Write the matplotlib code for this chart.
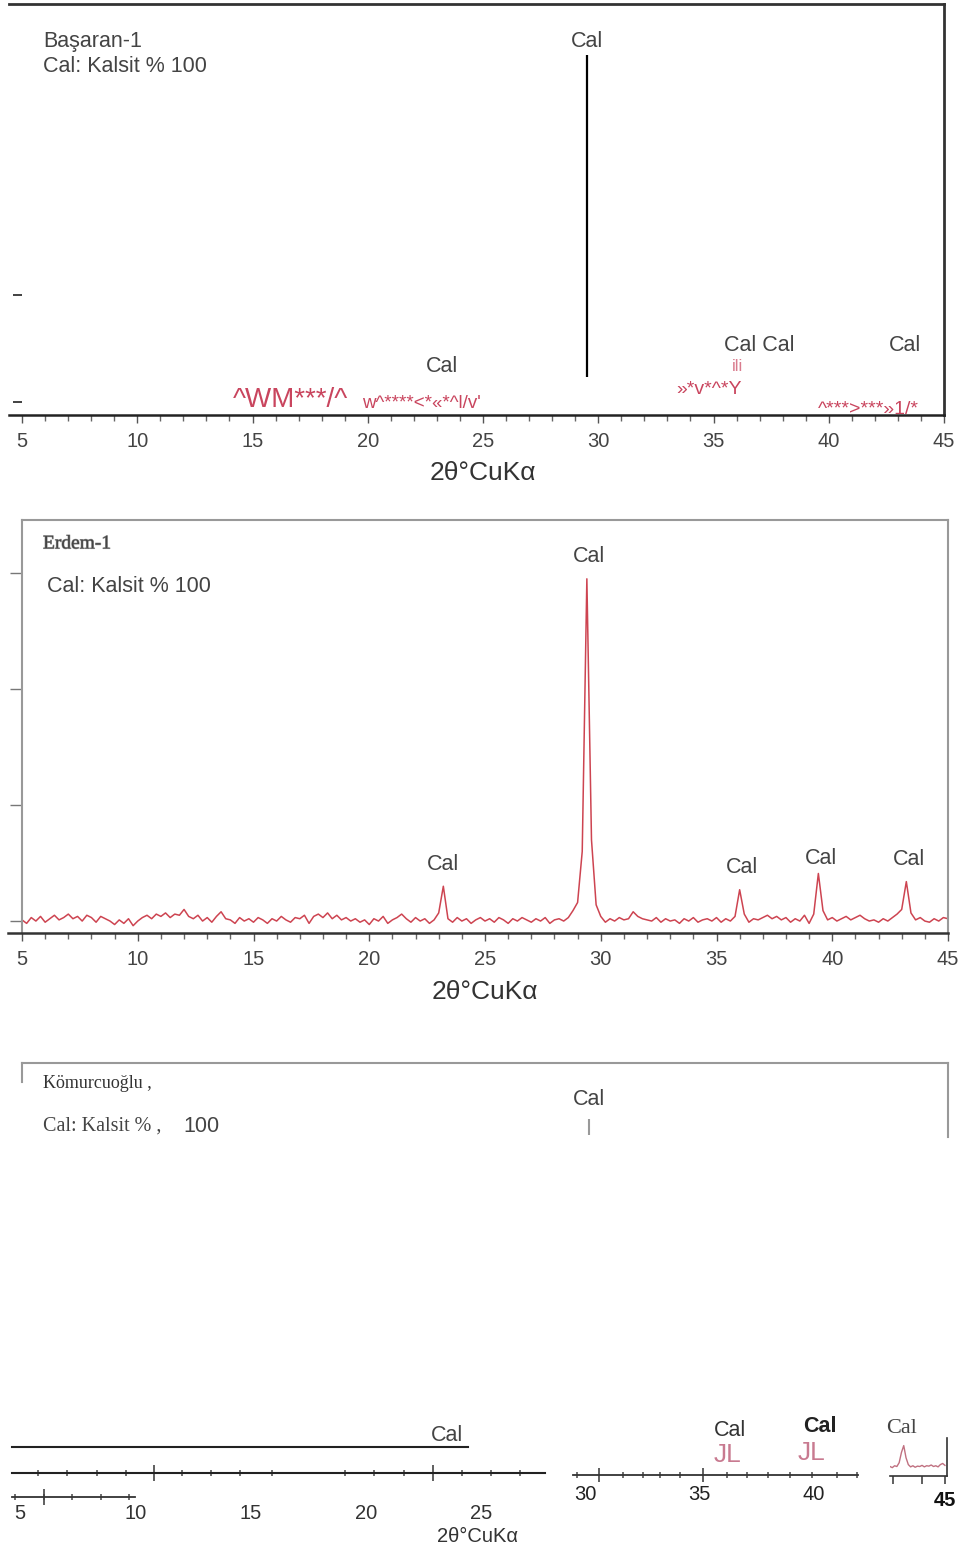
import numpy as np
import matplotlib
matplotlib.use('Agg')
import matplotlib.pyplot as plt
import matplotlib.patheffects as pe
from matplotlib.ticker import MultipleLocator, FixedLocator, NullFormatter

plt.rcParams['font.family'] = ['Liberation Sans', 'DejaVu Sans']
SERIF = ['Liberation Serif', 'DejaVu Serif']

# ---------------- data ----------------
# Başaran-1 : stick pattern
bas_stick_theta = [29.5]
bas_stick_lo = [23]
bas_stick_hi = [324]
bas_yticks = [0, 100]
bas_cal_theta = [29.5, 23.2, 37.0, 43.3]
bas_cal_y = [337, 33, 53, 53]
bas_cal_text = ['Cal', 'Cal', 'Cal Cal', 'Cal']

# Erdem-1 : measured scan, 5-45 deg step 0.2
erdem_theta = np.linspace(5.0, 45.0, 201)
erdem_counts = [
    1, -2, 3, 0, 4, -1, 2, 5, 1, 3,
    6, 2, 4, 0, 5, 3, -1, 4, 2, 0,
    -3, 1, -2, 2, -4, 0, 3, 5, 2, 6,
    4, 7, 3, 6, 5, 10, 4, 2, 5, 0,
    3, -1, 4, 8, 2, 1, -2, 3, 0, 2,
    -1, 3, 1, -2, 2, 0, 4, 1, -1, 3,
    2, 5, -2, 4, 6, 3, 7, 2, 5, 1,
    3, 0, 2, -1, 1, -3, 2, 0, 4, -2,
    1, 3, 6, 2, -1, 3, 0, 2, -2, 1,
    7, 30, 2, -1, 3, 0, 2, -2, 1, 3,
    0, 2, -1, 3, 1, -2, 2, 0, 3, 1,
    -1, 2, 0, 3, -2, 1, 2, 0, 3, 9,
    16, 60, 295, 70, 14, 4, -1, 2, 0, 3,
    1, 2, 8, 4, 2, 1, 0, 3, -1, 2,
    0, 1, -2, 2, 0, 3, -1, 1, 2, 0,
    3, -1, 2, 0, 4, 27, 6, -1, 2, 1,
    3, 5, 2, 4, 1, 3, -1, 2, 0, 5,
    -2, 6, 41, 9, 1, 3, 0, 2, 4, 1,
    3, 5, 2, 0, 1, -1, 2, 0, 3, 6,
    10, 34, 7, 1, 3, 0, -1, 2, 0, 3,
    2]
erdem_yticks = [0, 100, 200, 300]
erdem_cal_theta = [29.5, 23.2, 36.1, 39.5, 43.3]
erdem_cal_y = [314, 49, 46, 54, 53]

# Kömürcüoğlu : fragments
kom_stub_theta = [29.5]
kom_row1_minor = [5.78, 7.04, 8.34, 9.60, 12.03, 13.29, 14.54, 15.93,
                  19.10, 20.36, 21.66, 24.18, 25.43, 26.69]
kom_row1_major = [10.81, 22.92]
kom_row2_minor = [4.78, 6.04, 7.26, 8.51, 9.73]
kom_row2_labels = [5, 10, 15, 20, 25]
kom_right_minor = [29.65, 31.66, 32.53, 33.28, 34.15, 36.2, 37.07, 37.99,
                   38.95, 39.91, 41.0, 41.88]
kom_right_major = [30.61, 35.15]
kom_right_labels = [30, 35, 40]
kom_tail_theta = np.linspace(42.6, 45.0, 25)
kom_tail_counts = [0.25, 0.22, 0.27, 0.25, 0.35, 0.62, 0.80, 0.48, 0.30, 0.24,
                   0.27, 0.23, 0.26, 0.25, 0.28, 0.24, 0.27, 0.26, 0.29, 0.25,
                   0.27, 0.24, 0.30, 0.33, 0.28]

RED = '#c9455e'
PINK = '#c87a90'
FS = 15.5      # annotation text
TICK_FS = 14.5
LABEL_FS = 19
W, H = 965, 1546
fig = plt.figure(figsize=(9.65, 15.46), dpi=100)


def px_axes(x0, y0, x1, y1):
    return fig.add_axes([x0 / W, 1 - y1 / H, (x1 - x0) / W, (y1 - y0) / H])


def ftext(x, y, s, **kw):
    kw.setdefault('va', 'center')
    fig.text(x / W, 1 - y / H, s, **kw)


def deg_axis(ax):
    ax.set_xlim(5, 45)
    ax.xaxis.set_major_locator(MultipleLocator(5))
    ax.xaxis.set_minor_locator(MultipleLocator(1))
    ax.tick_params(axis='x', which='major', direction='out', length=6,
                   width=1, color='#555', labelsize=TICK_FS, labelcolor='#444', pad=6)
    ax.tick_params(axis='x', which='minor', direction='out', length=4.5,
                   width=1, color='#666')


# ---------------- panel 1 : Başaran-1 ----------------
ax1 = px_axes(22, 4, 944, 415)
deg_axis(ax1)
ax1.set_ylim(-12.1, 372)
ax1.vlines(bas_stick_theta, bas_stick_lo, bas_stick_hi, color='black', lw=1.6)
ax1.spines['left'].set_visible(False)
ax1.spines['top'].set_bounds(4.45, 45)
ax1.spines['bottom'].set_bounds(4.45, 45)
for s in ['top', 'right']:
    ax1.spines[s].set_color('#333')
    ax1.spines[s].set_linewidth(2)
ax1.spines['bottom'].set_color('#222')
ax1.spines['bottom'].set_linewidth(1.8)
ax1.set_yticks(bas_yticks)
ax1.yaxis.set_major_formatter(NullFormatter())
ax1.tick_params(axis='y', direction='out', length=6.5, width=1.3, color='#333')
ax1.set_xlabel('2θ°CuKα', fontsize=LABEL_FS, color='#333')
ax1.xaxis.set_label_coords(0.5, -0.112)
for x, y, t in zip(bas_cal_theta, bas_cal_y, bas_cal_text):
    ax1.text(x, y, t, ha='center', va='center', fontsize=FS, color='#444')
ax1.text(36.06, 33, 'ili', ha='center', va='center', fontsize=12, color=RED, alpha=0.7)
ax1.text(14.15, 2, '^WM***/^', ha='left', va='center', fontsize=20, color=RED)
ax1.text(19.75, -1, "w^****<*«*^l/v'", ha='left', va='center', fontsize=13.5, color=RED)
ax1.text(33.37, 12, '»*v*^*Y', ha='left', va='center', fontsize=14, color=RED)
ax1.text(39.53, -6.5, '^***>***»1/*', ha='left', va='center', fontsize=14, color=RED)
ftext(43, 42, 'Başaran-1', fontsize=FS, color='#444')
ftext(43, 66, 'Cal: Kalsit % 100', fontsize=FS, color='#444')

# ---------------- panel 2 : Erdem-1 ----------------
ax2 = px_axes(22, 520, 948, 933)
deg_axis(ax2)
ax2.set_ylim(-10.3, 345.7)
ax2.plot(erdem_theta, erdem_counts, color='#c8303e', lw=1.1, alpha=0.9)
for s in ['top', 'right', 'left']:
    ax2.spines[s].set_color('#999')
    ax2.spines[s].set_linewidth(1.5)
ax2.spines['bottom'].set_color('#333')
ax2.spines['bottom'].set_linewidth(1.8)
ax2.spines['bottom'].set_bounds(4.4, 45)
ax2.set_yticks(erdem_yticks)
ax2.yaxis.set_major_formatter(NullFormatter())
ax2.tick_params(axis='y', direction='out', length=8.5, width=1, color='#777')
ax2.set_xlabel('2θ°CuKα', fontsize=LABEL_FS, color='#333')
ax2.xaxis.set_label_coords(0.5, -0.115)
for x, y in zip(erdem_cal_theta, erdem_cal_y):
    ax2.text(x, y, 'Cal', ha='center', va='center', fontsize=FS, color='#444')
ftext(43, 544, 'Erdem-1', fontsize=14, color='#444', family=SERIF,
      path_effects=[pe.withStroke(linewidth=0.8, foreground='#999')])
ftext(47, 587, 'Cal: Kalsit % 100', fontsize=FS, color='#444')

# ---------------- panel 3 : Kömürcüoğlu (top) ----------------
ax3 = px_axes(22, 1063, 948, 1137)
ax3.set_xlim(5, 45)
ax3.set_ylim(0, 1)
ax3.spines['bottom'].set_visible(False)
ax3.spines['left'].set_bounds(0.74, 1)
for s in ['top', 'right', 'left']:
    ax3.spines[s].set_color('#999')
    ax3.spines[s].set_linewidth(1.5)
ax3.set_xticks([])
ax3.set_yticks([])
ax3.vlines(kom_stub_theta, 0.03, 0.24, color='#999', lw=1.5)
ax3.text(29.5, 0.51, 'Cal', ha='center', va='center', fontsize=FS, color='#444')
ftext(43, 1084, 'Kömurcuoğlu ,', fontsize=13, color='#333', family=SERIF)
ftext(43, 1126, 'Cal: Kalsit % ,', fontsize=14.5, color='#444', family=SERIF)
ftext(183, 1127, '100', fontsize=FS, color='#444')

# ---------------- panel 3 : broken axis fragments ----------------
# row 1
ax3a = px_axes(12, 1447, 545, 1473)
ax3a.set_xlim(4.653, 27.777)
ax3a.set_ylim(0, 1)
ax3a.set_facecolor('none')
ax3a.spines['left'].set_visible(False)
ax3a.spines['right'].set_visible(False)
ax3a.spines['top'].set_bounds(4.653, 24.436)
for s in ['top', 'bottom']:
    ax3a.spines[s].set_color('#222')
    ax3a.spines[s].set_linewidth(1.5)
ax3a.set_yticks([])
ax3a.xaxis.set_major_locator(FixedLocator(kom_row1_major))
ax3a.xaxis.set_minor_locator(FixedLocator(kom_row1_minor))
ax3a.xaxis.set_major_formatter(NullFormatter())
ax3a.tick_params(axis='x', which='major', direction='inout', length=12, width=1.2, color='#444')
ax3a.tick_params(axis='x', which='minor', direction='inout', length=5, width=1.2, color='#555')
ax3a.text(23.52, 1.46, 'Cal', transform=ax3a.get_xaxis_transform(),
          ha='center', va='center', fontsize=FS, color='#444')

# row 2 with labels
ax3b = px_axes(12, 1490, 545, 1497)
ax3b.set_xlim(4.653, 27.777)
ax3b.set_ylim(0, 1)
ax3b.set_facecolor('none')
for s in ['top', 'left', 'right']:
    ax3b.spines[s].set_visible(False)
ax3b.spines['bottom'].set_bounds(4.653, 9.989)
ax3b.spines['bottom'].set_color('#333')
ax3b.spines['bottom'].set_linewidth(1.3)
ax3b.set_yticks([])
ax3b.xaxis.set_major_locator(FixedLocator(kom_row2_labels))
ax3b.xaxis.set_minor_locator(FixedLocator(kom_row2_minor))
ax3b.tick_params(axis='x', which='major', length=0, labelsize=TICK_FS, labelcolor='#333', pad=5)
ax3b.tick_params(axis='x', which='minor', direction='inout', length=5, width=1.2, color='#555')
ax3b.vlines(kom_row2_minor[1], -1.1, 1.1, color='#444', lw=1.2, clip_on=False)
ftext(478, 1546, '2θ°CuKα', fontsize=14.5, color='#333', ha='center', va='bottom')

# right fragment
ax3d = px_axes(573, 1465, 858, 1475)
ax3d.set_xlim(29.476, 41.921)
ax3d.set_ylim(0, 1)
ax3d.set_facecolor('none')
for s in ['top', 'left', 'right']:
    ax3d.spines[s].set_visible(False)
ax3d.spines['bottom'].set_color('#333')
ax3d.spines['bottom'].set_linewidth(1.3)
ax3d.set_yticks([])
ax3d.xaxis.set_major_locator(FixedLocator(kom_right_major))
ax3d.xaxis.set_minor_locator(FixedLocator(kom_right_minor))
ax3d.xaxis.set_major_formatter(NullFormatter())
ax3d.tick_params(axis='x', which='major', direction='inout', length=10, width=1.2, color='#444')
ax3d.tick_params(axis='x', which='minor', direction='inout', length=5, width=1.2, color='#555')
tr = ax3d.get_xaxis_transform()
for v in kom_right_labels:
    ax3d.text(v, -1.9, str(v), transform=tr, ha='center', va='center', fontsize=TICK_FS, color='#222')
ax3d.text(36.33, 4.5, 'Cal', transform=tr, ha='center', va='center', fontsize=FS, color='#333')
ax3d.text(40.26, 4.8, 'Cal', transform=tr, ha='center', va='center', fontsize=FS,
          color='#222', fontweight='bold')
ax3d.text(36.24, 2.0, 'JL', transform=tr, ha='center', va='center', fontsize=19, color=PINK)
ax3d.text(39.91, 2.2, 'JL', transform=tr, ha='center', va='center', fontsize=19, color=PINK)

# small tail inset
ax3e = px_axes(890, 1438, 947, 1476)
ax3e.set_xlim(42.6, 45.09)
ax3e.set_ylim(0, 1)
ax3e.set_facecolor('none')
ax3e.plot(kom_tail_theta, kom_tail_counts, color='#c07080', lw=1)
ax3e.spines['top'].set_visible(False)
ax3e.spines['left'].set_visible(False)
for s in ['bottom', 'right']:
    ax3e.spines[s].set_color('#333')
    ax3e.spines[s].set_linewidth(1.2)
ax3e.set_yticks([])
ax3e.set_xticks([42.75, 44.0, 45.0])
ax3e.set_xticklabels(['', '', '45'])
ax3e.tick_params(axis='x', direction='out', length=6, width=1.2, color='#444',
                 labelsize=TICK_FS, labelcolor='#111', pad=5)
for lbl in ax3e.get_xticklabels():
    lbl.set_fontweight('bold')
ax3e.text(43.1, 1.24, 'Cal', transform=ax3e.get_xaxis_transform(), ha='center',
          va='center', fontsize=16, color='#444', family=SERIF)

fig.savefig('out.png', dpi=100)
